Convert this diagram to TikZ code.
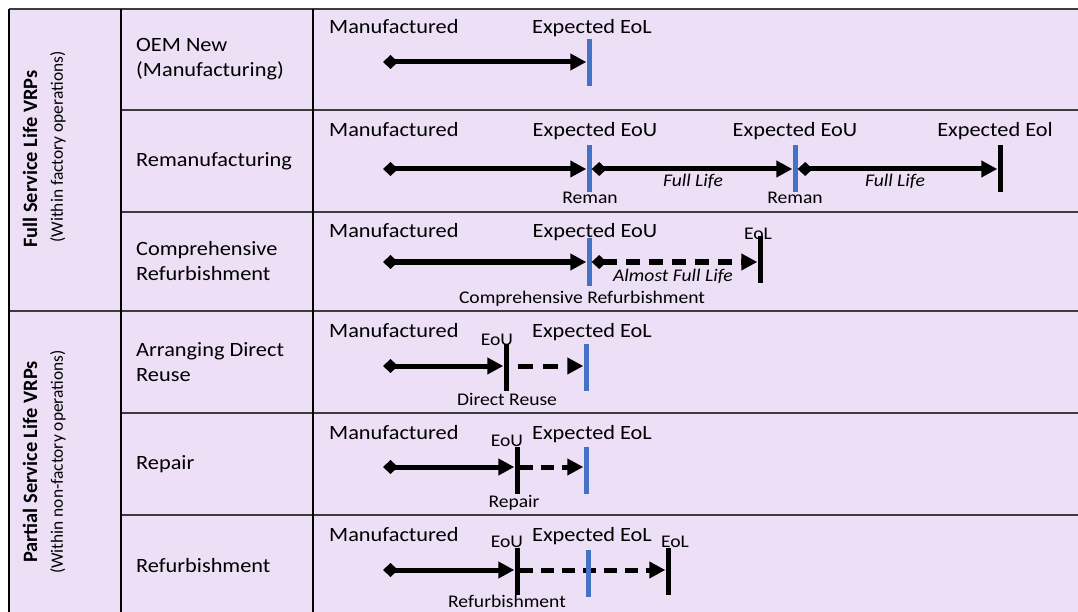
\documentclass[tikz,border=0pt]{standalone}
\usepackage{fontspec}
\setmainfont{Carlito}[FakeStretch=1.1]
\newfontfamily\grpfont{Carlito}
\usetikzlibrary{arrows.meta}
\definecolor{lav}{RGB}{237,224,246}
\definecolor{barblue}{RGB}{68,114,196}
\definecolor{gridgray}{RGB}{60,60,60}
\begin{document}
\begin{tikzpicture}[x=1pt,y=-1pt,
  big/.style={font=\fontsize{20.3}{25}\selectfont, inner sep=0pt},
  small/.style={font=\fontsize{17.8}{21}\selectfont, inner sep=0pt},
  ital/.style={font=\fontsize{17.8}{21}\selectfont\itshape, inner sep=0pt},
  grpbold/.style={font=\grpfont\fontsize{20.4}{24}\selectfont\bfseries, inner sep=0pt, rotate=90},
  grpsub/.style={font=\grpfont\fontsize{17.4}{21}\selectfont, inner sep=0pt, rotate=90},
  rowlab/.style={big, anchor=west, align=left},
  bluebar/.style={fill=barblue, minimum width=5pt, minimum height=47pt, inner sep=0pt},
  blackbar/.style={fill=black, minimum width=5pt, minimum height=47pt, inner sep=0pt},
  tl/.style={line width=5pt, {Diamond[length=15pt,width=14pt]}-{Triangle[length=16pt,width=16pt]}},
  tlp/.style={line width=5pt, -{Triangle[length=16pt,width=16pt]}},
  dsh/.style={dash pattern=on 14pt off 9pt},
  hline/.style={gridgray, line width=1.8pt},
  vline/.style={black, line width=2pt},
]
\useasboundingbox (0,0) rectangle (1078,612);
\fill[white] (0,0) rectangle (1078,612);
\fill[lav] (9,9) rectangle (1078,612);
% grid
\draw[hline] (9,9) -- (1078,9);
\draw[hline] (121,110) -- (1078,110);
\draw[hline] (121,212) -- (1078,212);
\draw[hline] (9,311) -- (1078,311);
\draw[hline] (121,413) -- (1078,413);
\draw[hline] (121,515) -- (1078,515);
\draw[vline] (9,9) -- (9,612);
\draw[vline] (121,9) -- (121,612);
\draw[vline] (313,9) -- (313,612);

% group labels
\node[grpbold] (g1a) at (30,159) {Full Service Life VRPs};
\node[grpsub] (g1b) at (58,147) {(Within factory operations)};
\node[grpbold] (g2a) at (30,462) {Partial Service Life VRPs};
\node[grpsub] (g2b) at (58,462) {(Within non-factory operations)};

% row labels
\node[rowlab] (l1) at (136,59.5) {OEM New\\(Manufacturing)};
\node[rowlab] (l2) at (136,161) {Remanufacturing};
\node[rowlab] (l3) at (136,261.5) {Comprehensive\\Refurbishment};
\node[rowlab] (l4) at (136,362) {Arranging Direct\\Reuse};
\node[rowlab] (l5) at (136,464) {Repair};
\node[rowlab] (l6) at (136,566) {Refurbishment};

% ---------- Row 1
\node[big, anchor=base west] (m1) at (329,34) {Manufactured};
\node[big, anchor=base] (x1) at (592,34) {Expected EoL};
\coordinate (s1) at (383,62);
\node[bluebar] (b1) at (589,63) {};
\draw[tl] (s1) -- (b1.west |- s1);

% ---------- Row 2
\node[big, anchor=base west] (m2) at (329,137) {Manufactured};
\node[big, anchor=base] (x21) at (595,137) {Expected EoU};
\node[big, anchor=base] (x22) at (795,137) {Expected EoU};
\node[big, anchor=base] (x23) at (995,137) {Expected Eol};
\coordinate (s2) at (383,169);
\node[bluebar] (b21) at (589,168.5) {};
\node[bluebar] (b22) at (795,168.5) {};
\node[blackbar] (b23) at (1000,169) {};
\draw[tl] (s2) -- (b21.west |- s2);
\draw[tl] (b21.east |- s2) -- (b22.west |- s2);
\draw[tl] (b22.east |- s2) -- (b23.west |- s2);
\node[ital, anchor=base] (f21) at (693,187) {Full Life};
\node[ital, anchor=base] (f22) at (895,187) {Full Life};
\node[small, anchor=base] (r21) at (590,204) {Reman};
\node[small, anchor=base] (r22) at (795,204) {Reman};

% ---------- Row 3
\node[big, anchor=base west] (m3) at (329,238) {Manufactured};
\node[big, anchor=base] (x3) at (595,238) {Expected EoU};
\node[small, anchor=base] (e3) at (758,240) {EoL};
\coordinate (s3) at (383,262);
\node[bluebar] (b31) at (589,262) {};
\node[blackbar] (b32) at (760,259.5) {};
\draw[tl] (s3) -- (b31.west |- s3);
\draw[tl, dsh] (b31.east |- s3) -- (b32.west |- s3);
\node[ital, anchor=base] (a3) at (673,281) {Almost Full Life};
\node[small, anchor=base] (c3) at (582,303) {Comprehensive Refurbishment};

% ---------- Row 4
\node[big, anchor=base west] (m4) at (329,337) {Manufactured};
\node[big, anchor=base] (x4) at (592,337) {Expected EoL};
\node[small, anchor=base] (u4) at (497,345) {EoU};
\coordinate (s4) at (383,366);
\node[blackbar] (b41) at (506,367.5) {};
\node[bluebar] (b42) at (586,367.5) {};
\draw[tl] (s4) -- (b41.west |- s4);
\draw[tlp, dash pattern=on 15pt off 10pt, dash phase=16pt] (b41.east |- s4) -- (b42.west |- s4);
\node[small, anchor=base] (d4) at (507,405) {Direct Reuse};

% ---------- Row 5
\node[big, anchor=base west] (m5) at (329,439) {Manufactured};
\node[big, anchor=base] (x5) at (592,439) {Expected EoL};
\node[small, anchor=base] (u5) at (507,446) {EoU};
\coordinate (s5) at (383,467);
\node[blackbar] (b51) at (517,470) {};
\node[bluebar] (b52) at (586,470) {};
\draw[tl] (s5) -- (b51.west |- s5);
\draw[tlp, dash pattern=on 13pt off 8pt] (b51.east |- s5) -- (b52.west |- s5);
\node[small, anchor=base] (p5) at (514,507) {Repair};

% ---------- Row 6
\node[big, anchor=base west] (m6) at (329,541) {Manufactured};
\node[big, anchor=base] (x6) at (592,541) {Expected EoL};
\node[small, anchor=base] (u6) at (507,547) {EoU};
\node[small, anchor=base] (e6) at (675,547) {EoL};
\coordinate (s6) at (383,570);
\node[blackbar] (b61) at (517,571) {};
\node[blackbar] (b63) at (668,571) {};
\draw[tl] (s6) -- (b61.west |- s6);
\draw[tlp, dash pattern=on 13pt off 8pt] (b61.east |- s6) -- (b63.west |- s6);
\node[bluebar] (b62) at (588,573) {};
\node[small, anchor=base] (q6) at (507,607) {Refurbishment};
\end{tikzpicture}
\end{document}
